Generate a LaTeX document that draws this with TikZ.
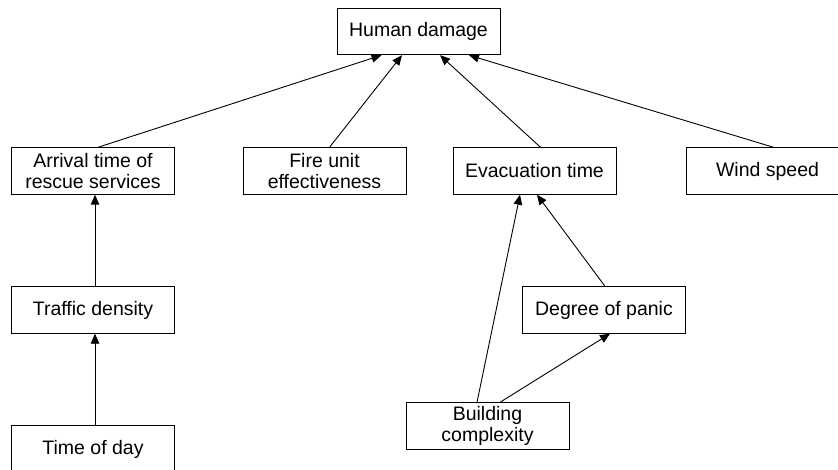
\documentclass[tikz,border=0pt]{standalone}
\usepackage{fontspec}
\setmainfont{Liberation Sans}
\usetikzlibrary{arrows.meta,calc}

\tikzset{
  factor/.style={draw, line width=0.9pt, rectangle, minimum width=163pt,
    minimum height=46.5pt, inner sep=0pt, align=center,
    font=\fontsize{19.5}{21}\selectfont},
  link/.style={line width=0.9pt, -{Triangle[length=10pt,width=8.5pt]}}
}

\begin{document}
\begin{tikzpicture}[x=1pt,y=-1pt]
  \useasboundingbox (0,0) rectangle (838,470);
  \clip (0,0) rectangle (838,470);

  % factor boxes
  \node[factor] (hd)   at (418.5,31.5)  {Human damage};
  \node[factor] (arr)  at (93,171)      {Arrival time of\\rescue services};
  \node[factor] (fire) at (324.5,171)   {Fire unit\\effectiveness};
  \node[factor] (evac) at (534.5,171)   {Evacuation time};
  \node[factor] (wind) at (767.5,171)   {Wind speed};
  \node[factor] (traf) at (93,310)      {Traffic density};
  \node[factor] (pan)  at (604,310)     {Degree of panic};
  \node[factor] (bld)  at (487.5,426)   {Building\\complexity};
  \node[factor] (tod)  at (93,449)      {Time of day};

  % influences
  \draw[link] ($(arr.north)+(5,0)$)  -- ($(hd.south)+(-37,0)$);
  \draw[link] ($(fire.north)+(5,0)$) -- ($(hd.south)+(-16.5,0)$);
  \draw[link] ($(evac.north)+(6,0)$) -- ($(hd.south)+(21.5,0)$);
  \draw[link] ($(wind.north)+(6,0)$) -- ($(hd.south)+(50.5,0)$);

  \draw[link] ($(traf.north)+(2,0)$) -- ($(arr.south)+(2,0)$);
  \draw[link] ($(tod.north)+(2,0)$)  -- ($(traf.south)+(2,0)$);

  \draw[link] ($(bld.north)+(-10.5,0)$) -- ($(evac.south)+(-14.5,0)$);
  \draw[link] ($(pan.north)+(1,0)$)     -- ($(evac.south)+(2.5,0)$);
  \draw[link] ($(bld.north)+(12.5,0)$)  -- ($(pan.south)+(6,0)$);
\end{tikzpicture}
\end{document}
